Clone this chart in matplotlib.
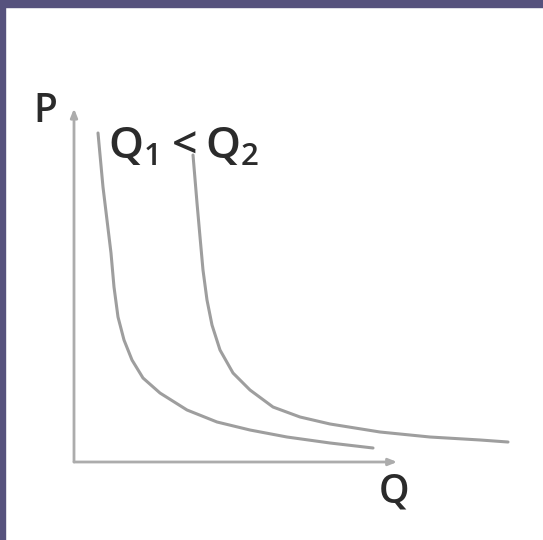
import matplotlib.pyplot as plt
from matplotlib.patches import Rectangle

# curvas P(Q) para dos cantidades, Q1 < Q2
q1 = [0.75, 0.906, 1.031, 1.156, 1.25, 1.375, 1.5625, 1.8125, 2.156, 2.6875,
      3.531, 4.469, 5.5, 6.656, 8.0, 9.344]
p1 = [9.4, 7.857, 6.914, 5.971, 5.0, 4.143, 3.486, 2.914, 2.4, 1.971,
      1.486, 1.143, 0.914, 0.714, 0.543, 0.4]

q2 = [3.719, 3.844, 3.938, 4.031, 4.156, 4.3125, 4.5625, 4.969, 5.5, 6.219,
      7.0625, 8.0, 9.5625, 11.125, 12.6875, 13.5625]
p2 = [8.771, 7.4, 6.429, 5.486, 4.629, 3.914, 3.2, 2.543, 2.057, 1.571,
      1.286, 1.086, 0.857, 0.714, 0.629, 0.571]

etiqueta_y = "P"
etiqueta_x = "Q"
etiqueta_curvas = r"$\mathregular{Q_1 < Q_2}$"

fondo = "#56527d"
gris_curva = "#9e9e9e"
gris_eje = "#acacac"
texto = "#2b2b2b"

plt.rcParams["font.family"] = ["Open Sans", "DejaVu Sans"]

W, H = 543, 540
fig = plt.figure(figsize=(W / 100, H / 100), dpi=100, facecolor="white")

# marco de la diapositiva: franja superior e izquierda
fig.patches.append(Rectangle((0, 0), 5 / W, 1, transform=fig.transFigure,
                             color=fondo, zorder=0))
fig.patches.append(Rectangle((0, 1 - 7 / H), 1, 7 / H, transform=fig.transFigure,
                             color=fondo, zorder=0))

ax = fig.add_axes([5 / W, 0, 538 / W, 533 / H])
ax.set_xlim(-69 / 32, 469 / 32)
ax.set_ylim(-78 / 35, 455 / 35)
ax.axis("off")

# ejes con flecha
flecha = dict(arrowstyle="-|>,head_length=0.5,head_width=0.2", color=gris_eje,
              lw=2, shrinkA=0, shrinkB=0)
ax.annotate("", xy=(10.1, 0), xytext=(0, 0), arrowprops=flecha)
ax.annotate("", xy=(0, 10.1), xytext=(0, 0), arrowprops=flecha)

ax.plot(q1, p1, color=gris_curva, lw=2.2, solid_capstyle="round",
        solid_joinstyle="round")
ax.plot(q2, p2, color=gris_curva, lw=2.2, solid_capstyle="round",
        solid_joinstyle="round")

ax.text(-0.9, 10.0, etiqueta_y, fontsize=28, fontweight="semibold", color=texto,
        ha="center", va="center")
ax.text(10.0, -0.86, etiqueta_x, fontsize=28, fontweight="semibold", color=texto,
        ha="center", va="center")
ax.text(1.05, 9.0, etiqueta_curvas, fontsize=32, fontweight="semibold",
        color=texto, ha="left", va="center")

fig.savefig("out.png", dpi=100)
